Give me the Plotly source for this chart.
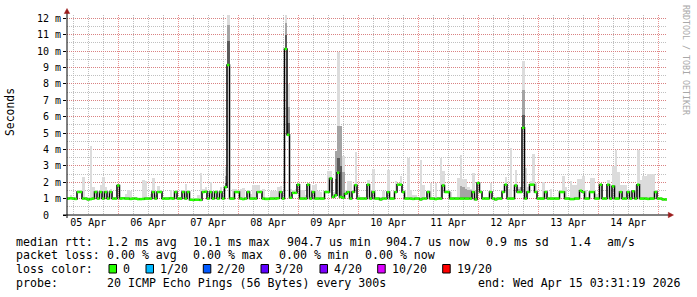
import plotly.graph_objects as go
import pandas as pd

# ---------------- data ----------------
start = pd.Timestamp("2026-04-05 03:31:19")
end = pd.Timestamp("2026-04-15 03:31:19")

# hourly median rtt in ms (240 hours)
median_ms = [
    1.0, 1.02, 1.0, 0.98, 1.4, 1.4, 1.0, 1.0, 0.95, 0.97, 1.0, 1.4, 1.0, 1.4, 1.0, 1.4, 1.0, 1.4, 1.0, 1.0,
    1.8, 1.0, 1.02, 1.0, 1.0, 0.98, 1.0, 1.0, 0.97, 0.97, 0.98, 1.0, 1.0, 1.0, 1.4, 1.0, 1.4, 1.4, 1.0, 1.0,
    1.0, 1.02, 1.0, 1.4, 1.0, 1.0, 1.4, 1.0, 1.4, 0.93, 0.92, 0.93, 0.93, 0.92, 1.4, 1.42, 1.0, 1.4, 1.0, 1.4,
    1.0, 1.4, 1.0, 1.7, 9.15, 1.0, 1.0, 1.4, 1.4, 1.0, 0.97, 1.0, 1.4, 1.0, 1.0, 1.0, 1.4, 1.4, 1.0, 0.98,
    0.98, 1.0, 1.0, 1.0, 1.02, 1.4, 1.0, 10.13, 4.89, 1.05, 1.35, 1.35, 1.85, 1.0, 1.0, 1.0, 1.85, 1.0, 1.4, 1.0,
    1.0, 1.0, 1.0, 1.4, 1.4, 2.23, 1.1, 1.2, 2.58, 1.1, 1.05, 1.3, 1.4, 1.0, 1.4, 1.82, 1.0, 1.0, 1.0, 1.0,
    1.85, 1.0, 1.4, 1.0, 1.0, 0.95, 1.0, 1.0, 1.4, 1.0, 1.0, 1.4, 1.85, 1.85, 1.4, 1.0, 1.0, 1.0, 0.98, 1.0,
    1.0, 0.95, 1.0, 1.0, 1.4, 1.0, 1.0, 0.97, 1.0, 1.0, 1.8, 1.4, 1.4, 1.0, 1.0, 1.0, 1.0, 1.0, 1.0, 1.0,
    1.0, 1.0, 1.4, 0.95, 1.95, 1.4, 1.0, 1.0, 1.0, 1.4, 1.0, 0.95, 1.0, 1.0, 1.4, 1.85, 1.0, 1.0, 1.0, 1.8,
    1.4, 1.4, 5.32, 1.0, 1.4, 1.85, 1.85, 1.4, 1.0, 1.0, 1.0, 1.4, 1.0, 1.0, 1.0, 1.0, 1.0, 1.4, 1.4, 1.0,
    1.0, 0.97, 0.97, 1.0, 1.0, 1.48, 1.4, 1.0, 1.0, 1.4, 1.4, 1.0, 1.0, 1.85, 1.0, 1.0, 1.85, 1.0, 1.75, 1.0,
    1.0, 1.4, 1.0, 1.0, 1.4, 1.0, 1.45, 1.0, 1.85, 1.0, 1.0, 1.0, 0.98, 1.0, 1.0, 1.4, 1.0, 1.0, 0.95, 0.95,
]

# hourly maximum of the ping smoke in ms
smoke_max_ms = [
    1.1, 1.25, 1.1, 1.1, 1.55, 1.55, 2.3, 1.1, 1.1, 4.22, 1.7, 1.5, 1.1, 1.85, 2.33, 1.7, 1.15, 1.6, 1.1, 1.1,
    1.9, 1.1, 1.1, 1.3, 1.5, 1.45, 1.1, 1.1, 1.05, 1.05, 2.15, 2.05, 1.1, 1.3, 2.25, 1.2, 1.75, 1.5, 1.1, 1.1,
    1.1, 1.5, 1.1, 1.5, 1.1, 1.1, 1.5, 1.9, 1.5, 1.0, 1.0, 1.0, 1.2, 2.55, 1.6, 1.7, 1.1, 2.0, 1.1, 1.55,
    1.1, 1.7, 1.2, 2.92, 12.2, 1.1, 1.6, 1.6, 1.5, 1.6, 1.65, 1.1, 1.5, 1.3, 1.8, 1.8, 1.8, 1.5, 1.6, 1.1,
    1.1, 1.45, 1.45, 1.45, 1.7, 1.75, 1.1, 12.2, 8.0, 1.6, 1.5, 1.6, 1.95, 1.55, 1.55, 1.2, 1.9, 1.1, 1.85, 1.9,
    1.45, 1.4, 1.1, 1.5, 2.66, 2.66, 1.4, 3.9, 9.97, 5.4, 3.57, 1.5, 2.1, 2.1, 1.5, 3.83, 1.2, 1.1, 1.1, 1.1,
    2.15, 1.1, 2.8, 1.1, 1.1, 1.1, 1.45, 1.1, 2.75, 1.1, 1.1, 2.1, 1.95, 2.4, 1.5, 1.1, 3.47, 1.5, 1.2, 1.2,
    1.1, 3.33, 1.85, 1.1, 1.5, 1.95, 1.1, 1.95, 1.1, 3.47, 2.7, 1.5, 1.5, 1.4, 1.1, 1.1, 2.25, 3.65, 2.2, 2.2,
    1.7, 1.6, 2.55, 1.1, 2.0, 1.5, 1.1, 1.1, 1.1, 1.95, 1.1, 1.1, 1.1, 1.1, 1.5, 2.3, 1.6, 4.07, 1.1, 2.75,
    1.7, 1.7, 9.4, 2.85, 1.7, 2.1, 3.7, 1.95, 1.1, 1.1, 2.0, 1.5, 1.1, 1.6, 1.1, 1.1, 1.1, 1.55, 2.35, 1.7,
    1.1, 2.05, 1.85, 1.85, 2.2, 2.2, 2.35, 1.5, 1.1, 2.25, 2.25, 1.3, 1.3, 1.95, 1.1, 1.1, 2.15, 1.1, 2.96, 3.98,
    2.65, 1.8, 1.8, 1.8, 1.5, 1.1, 1.5, 1.85, 3.98, 2.15, 2.35, 2.35, 2.51, 2.51, 2.51, 1.5, 1.0, 1.0, 0.95, 0.95,
]

# denser (darker) parts of the smoke: hour index and top of the band in ms
mid_hours = [63, 64, 87, 88, 107, 108, 109, 110, 157, 158, 159, 160, 161, 180, 181, 182]
mid_top_ms = [2.4, 11.6, 11.7, 6.6, 3.9, 5.4, 5.4, 2.6, 1.74, 1.7, 1.6, 1.5, 1.5, 1.6, 1.7, 7.6]
dark_hours = [63, 64, 87, 88, 107, 108, 109, 182]
dark_top_ms = [1.95, 10.6, 11.0, 5.6, 2.2, 3.5, 3.0, 6.1]

ytick_values = list(range(13))
ytick_labels = ["0\u00a0\u00a0"] + [f"{v} m" for v in range(1, 13)]

loss_labels = ["0", "1/20", "2/20", "3/20", "4/20", "10/20", "19/20"]
loss_colors = ["#26ff00", "#00b8ff", "#0059ff", "#5e00ff", "#7e00ff", "#dd00ff", "#ff0000"]

# ---------------- layout geometry (pixels) ----------------
W, H = 697, 297
L, R, T, B = 67, 667, 15, 215
MONO = "DejaVu Sans Mono"


def px_x(px):
    return (px - L) / (R - L)


def px_y(py):
    return (B - py) / (B - T)


hour = pd.Timedelta(hours=1)
times = pd.date_range(start, periods=len(median_ms), freq="h")
centers = times + hour / 2
hour_ms = 3600 * 1000

fig = go.Figure()

# light smoke
fig.add_trace(go.Bar(
    x=centers, base=median_ms,
    y=[hi - m for hi, m in zip(smoke_max_ms, median_ms)],
    width=hour_ms, marker=dict(color="#dcdcdc", line=dict(width=0)),
    hoverinfo="skip"))
# mid smoke
fig.add_trace(go.Bar(
    x=[centers[h] for h in mid_hours], base=[median_ms[h] for h in mid_hours],
    y=[t - median_ms[h] for h, t in zip(mid_hours, mid_top_ms)],
    width=hour_ms, marker=dict(color="#a4a4a4", line=dict(width=0)),
    hoverinfo="skip"))
# dark smoke
fig.add_trace(go.Bar(
    x=[centers[h] for h in dark_hours], base=[median_ms[h] for h in dark_hours],
    y=[t - median_ms[h] for h, t in zip(dark_hours, dark_top_ms)],
    width=hour_ms, marker=dict(color="#5a5a5a", line=dict(width=0)),
    hoverinfo="skip"))

# median black step line
fig.add_trace(go.Scatter(
    x=list(times) + [end], y=median_ms + [median_ms[-1]],
    mode="lines", line=dict(color="#000000", width=1.5, shape="hv"),
    hoverinfo="skip"))

# green (0 loss) median segments
gx, gy = [], []
for t, m in zip(times, median_ms):
    gx += [t, t + hour, None]
    gy += [m, m, None]
fig.add_trace(go.Scatter(
    x=gx, y=gy, mode="lines", line=dict(color=loss_colors[0], width=2.5),
    connectgaps=False, hoverinfo="skip"))

fig.update_layout(
    width=W, height=H,
    margin=dict(l=L, r=W - R, t=T, b=H - B, pad=0),
    paper_bgcolor="white", plot_bgcolor="white",
    showlegend=False, barmode="overlay", bargap=0,
    font=dict(family=MONO, size=10, color="#000000"),
)

fig.update_xaxes(
    type="date", range=[start, end],
    tickformat="%d %b", dtick=86400000, tick0="2026-04-05",
    ticklabelmode="period",
    showgrid=True, gridcolor="rgba(225,110,110,0.75)", griddash="1px,1px", gridwidth=1,
    minor=dict(dtick=6 * 3600 * 1000, tick0="2026-04-05", showgrid=True,
               gridcolor="rgba(185,185,185,0.9)", griddash="1px,1px", gridwidth=1),
    showline=False, zeroline=False, ticks="",
    tickfont=dict(family=MONO, size=10, color="#000000"),
)
fig.update_yaxes(
    range=[0, 12.2], tickvals=ytick_values, ticktext=ytick_labels,
    showgrid=True, gridcolor="rgba(225,110,110,0.75)", griddash="1px,1px", gridwidth=1,
    minor=dict(dtick=0.5, showgrid=True, gridcolor="rgba(185,185,185,0.9)",
               griddash="1px,1px", gridwidth=1),
    showline=False, zeroline=False, ticks="outside", ticklen=3, tickcolor="#000000",
    tickfont=dict(family=MONO, size=10, color="#000000"),
)

shapes = []
# axis lines
shapes.append(dict(type="line", xref="paper", yref="paper",
                   x0=px_x(63), x1=px_x(669), y0=px_y(215), y1=px_y(215),
                   line=dict(color="#000000", width=1)))
shapes.append(dict(type="line", xref="paper", yref="paper",
                   x0=px_x(67), x1=px_x(67), y0=px_y(218), y1=px_y(12),
                   line=dict(color="#000000", width=1)))
# arrow heads
arrow_col = "#9b1c1c"
shapes.append(dict(type="path", xref="paper", yref="paper",
                   path=f"M {px_x(64.3)},{px_y(13.5)} L {px_x(69.7)},{px_y(13.5)} L {px_x(67)},{px_y(8.5)} Z",
                   fillcolor=arrow_col, line=dict(color=arrow_col, width=0.5)))
shapes.append(dict(type="path", xref="paper", yref="paper",
                   path=f"M {px_x(668.3)},{px_y(212.3)} L {px_x(668.3)},{px_y(217.7)} L {px_x(673.5)},{px_y(215)} Z",
                   fillcolor=arrow_col, line=dict(color=arrow_col, width=0.5)))

# loss colour swatches
swatch_left_px = [109, 146, 203.3, 261, 320, 377.7, 442.7]
for sx, col in zip(swatch_left_px, loss_colors):
    shapes.append(dict(type="rect", xref="paper", yref="paper",
                       x0=px_x(sx), x1=px_x(sx + 7.5), y0=px_y(264.5), y1=px_y(273),
                       fillcolor=col, line=dict(color="#000000", width=1)))
fig.update_layout(shapes=shapes)

annotations = []


def add_text(txt, px, py, size=11.6, color="#000000", anchor="left", angle=0):
    annotations.append(dict(
        text=txt, xref="paper", yref="paper", x=px_x(px), y=px_y(py),
        xanchor=anchor, yanchor="middle", showarrow=False, textangle=angle,
        borderpad=0, borderwidth=0,
        font=dict(family=MONO, size=size, color=color)))


# axis title and watermark
add_text("Seconds", 10, 112, size=11.4, anchor="center", angle=-90)
add_text("RRDTOOL / TOBI OETIKER", 686, 60, size=8.3, color="#a8a8a8", anchor="center", angle=90)

# legend block
line1 = [("median rtt:", 16), ("1.2 ms avg", 107.3), ("10.1 ms max", 193.3),
         ("904.7 us min", 286.7), ("904.7 us now", 386), ("0.9 ms sd", 486),
         ("1.4", 570), ("am/s", 606.7)]
line2 = [("packet loss:", 16), ("0.00 % avg", 107.3), ("0.00 % max", 193.3),
         ("0.00 % min", 279.3), ("0.00 % now", 365)]
line4 = [("probe:", 16), ("20 ICMP Echo Pings (56 Bytes) every 300s", 107.3),
         ("end: Wed Apr 15 03:31:19 2026", 478.3)]
for txt, px in line1:
    add_text(txt, px, 241.5)
for txt, px in line2:
    add_text(txt, px, 255.2)
add_text("loss color:", 16, 269)
for lab, sx in zip(loss_labels, swatch_left_px):
    add_text(lab, sx + 14, 269)
for txt, px in line4:
    add_text(txt, px, 282.8)

fig.update_layout(annotations=annotations)

fig.write_html("out.html")
